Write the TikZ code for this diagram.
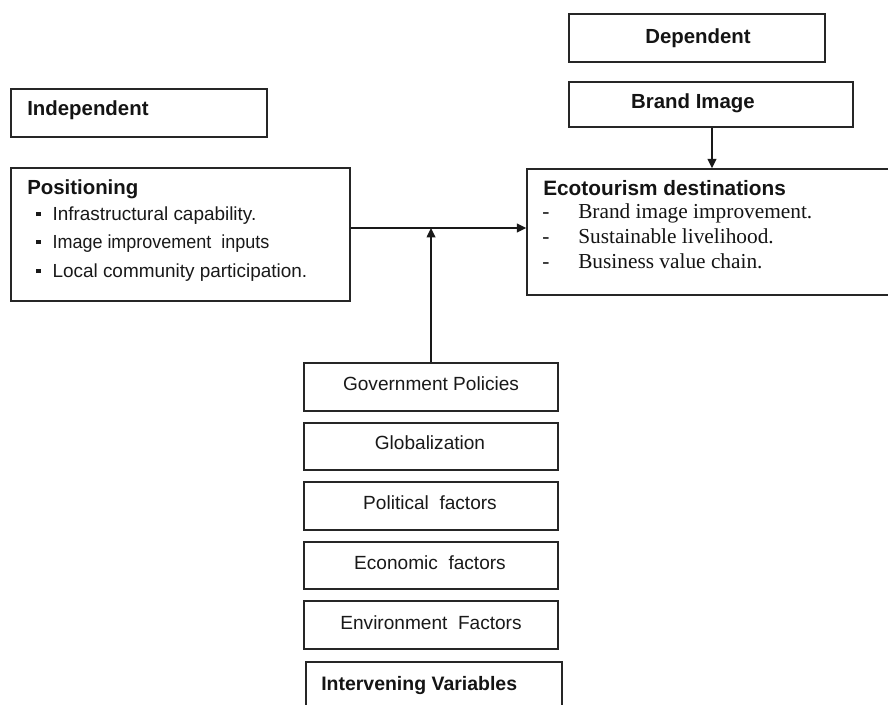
\documentclass[tikz,border=0pt]{standalone}
\usepackage{fontspec}
\usepackage{graphicx}
\setmainfont{Liberation Sans}
\newfontfamily\serifface{Liberation Serif}
\usetikzlibrary{fit,arrows.meta}
\begin{document}
\begin{tikzpicture}[x=0.75pt,y=-0.75pt,
  box/.style={draw=black!85, line width=1.1pt, inner sep=0pt},
  head/.style={font=\fontsize{15.3}{18}\selectfont\bfseries, inner sep=0pt, text=black!92},
  item/.style={font=\fontsize{14.2}{17}\selectfont, inner sep=0pt, anchor=base west, text=black!90},
  sitem/.style={font=\serifface\fontsize{16}{18}\selectfont, inner sep=0pt, anchor=base west, text=black!92},
  ctext/.style={font=\fontsize{14.3}{17}\selectfont, inner sep=0pt, anchor=base, text=black!90},
  arr/.style={line width=1.1pt, draw=black!90, -{Triangle[length=7pt,width=6.5pt]}}]
\useasboundingbox (0,0) rectangle (888,704);
\fill[white] (0,0) rectangle (888,704);

% top boxes
\node[box, fit={(11,89) (267,137)}] (indep) {};
\node[head, anchor=base west] (indept) at (27,115) {Independent};
\node[box, fit={(569,14) (825,62)}] (dep) {};
\node[head, anchor=base] (dept) at (698,43) {Dependent};
\node[box, fit={(569,82) (853,127)}] (brand) {};
\node[head, anchor=base] (brandt) at (693,108) {Brand Image};

% positioning
\node[box, fit={(11,168) (350,301)}] (pos) {};
\node[head, anchor=base west] (post) at (27,194) {Positioning};
\node[item] (p1) at (36,220) {\rule[3pt]{3.2pt}{3.2pt}\hspace{9pt}Infrastructural capability.};
\node[item] (p2) at (36,248) {\rule[3pt]{3.2pt}{3.2pt}\hspace{9pt}\scalebox{0.95}[1]{Image improvement\ \ inputs}};
\node[item] (p3) at (36,277) {\rule[3pt]{3.2pt}{3.2pt}\hspace{9pt}Local community participation.};

% ecotourism
\node[box, fit={(527,169) (894,295)}] (eco) {};
\node[head, anchor=base west, font=\fontsize{15.6}{18}\selectfont\bfseries] (ecot) at (543,195) {Ecotourism destinations};
\node[sitem] (e1) at (542,218) {\makebox[27pt][l]{-}Brand image improvement.};
\node[sitem] (e2) at (542,243) {\makebox[27pt][l]{-}Sustainable livelihood.};
\node[sitem] (e3) at (542,268) {\makebox[27pt][l]{-}Business value chain.};

% intervening
\node[box, fit={(304,363) (558,411)}] (gov) {};
\node[ctext] (govt) at (431,390) {Government Policies};
\node[box, fit={(304,423) (558,470)}] (glob) {};
\node[ctext] (globt) at (430,449) {Globalization};
\node[box, fit={(304,482) (558,530)}] (pol) {};
\node[ctext] (polt) at (430,509) {Political\ \ factors};
\node[box, fit={(304,542) (558,589)}] (econ) {};
\node[ctext] (econt) at (430,569) {Economic\ \ factors};
\node[box, fit={(304,601) (558,649)}] (env) {};
\node[ctext] (envt) at (431,629) {Environment\ \ Factors};
\node[box, fit={(306,662) (562,712)}] (interv) {};
\node[head, anchor=base west, font=\fontsize{14.6}{17}\selectfont\bfseries] (intervt) at (321,690) {Intervening Variables};

% connectors
\coordinate (j) at (431,228);
\draw[arr] (pos.east |- j) -- (eco.west |- j);
\draw[arr] (gov.north) -- (j);
\draw[arr] (brand.south -| 712,0) -- (eco.north -| 712,0);
\end{tikzpicture}
\end{document}
